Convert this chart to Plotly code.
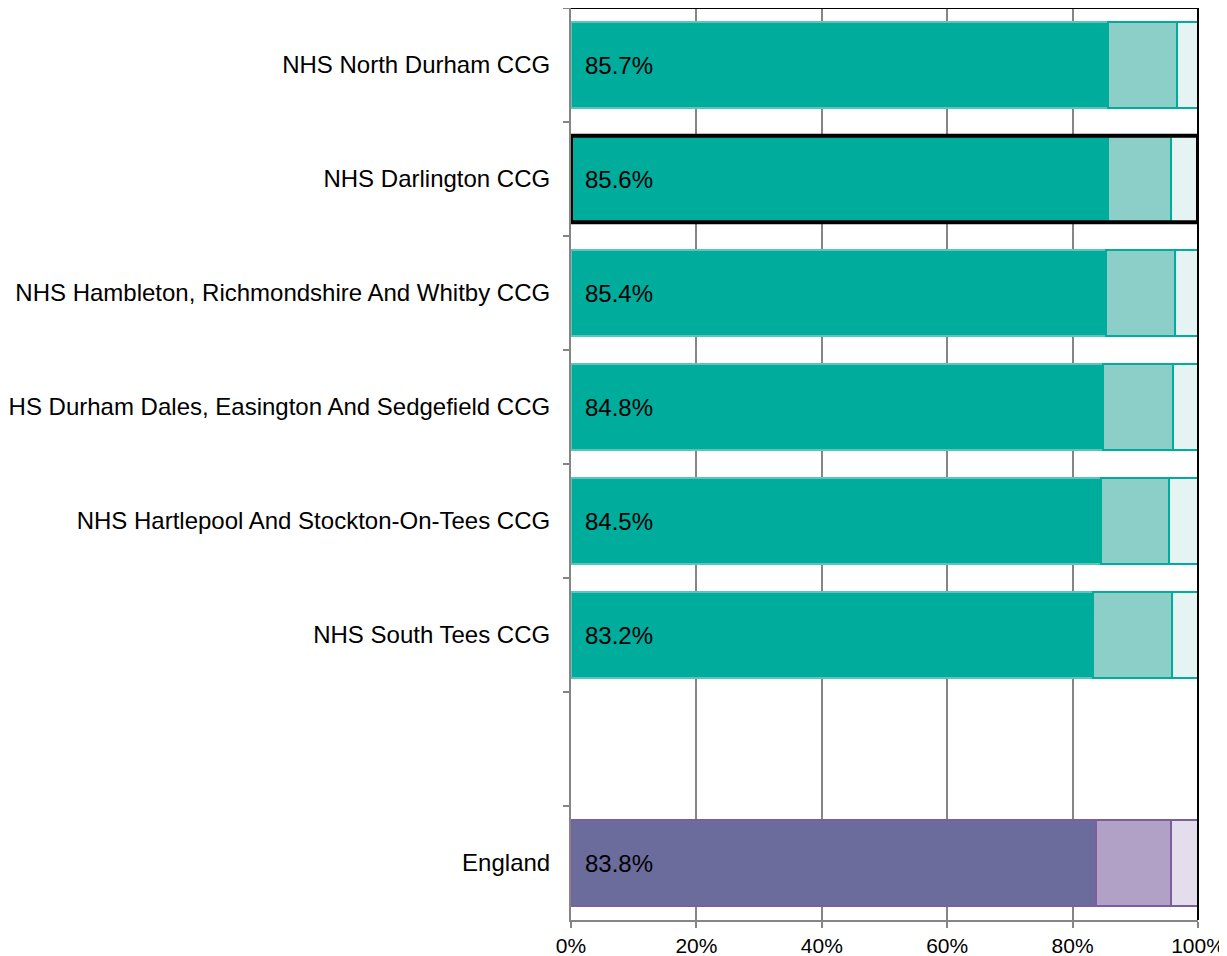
import plotly.graph_objects as go

categories = ["NHS North Durham CCG", "NHS Darlington CCG",
              "NHS Hambleton, Richmondshire And Whitby CCG",
              "NHS Durham Dales, Easington And Sedgefield CCG",
              "NHS Hartlepool And Stockton-On-Tees CCG",
              "NHS South Tees CCG", " ", "England"]
good = [85.7, 85.6, 85.4, 84.8, 84.5, 83.2, None, 83.8]
neither = [10.9, 10.1, 10.9, 11.2, 10.9, 12.6, None, 11.9]
poor = [3.4, 4.3, 3.7, 4.0, 4.6, 4.2, None, 4.3]
highlight = "NHS Darlington CCG"
x_ticks = [0, 20, 40, 60, 80, 100]
x_ticktext = ["0%", "20%", "40%", "60%", "80%", "100%"]

teal = ["#00AC9C", "#8BCFC8", "#E5F4F3"]
purple = ["#6C6C9C", "#B1A1C7", "#E4DEEC"]
teal_line = ["#5CC4B8", "#00AC9C", "#00AC9C"]
purple_line = ["#7A5E9E", "#7A5E9E", "#7A5E9E"]

fig = go.Figure()
for i, vals in enumerate([good, neither, poor]):
    fills = [purple[i] if c == "England" else teal[i] for c in categories]
    lines = [purple_line[i] if c == "England" else teal_line[i] for c in categories]
    fig.add_trace(go.Bar(
        y=categories, x=vals, orientation="h",
        marker=dict(color=fills, line=dict(color=lines, width=2)),
        width=0.76, showlegend=False, hoverinfo="skip"))

for c, v in zip(categories, good):
    if v is not None:
        fig.add_annotation(x=0, y=c, text=f"{v:.1f}%", showarrow=False,
                           xanchor="left", xshift=12,
                           font=dict(family="Liberation Sans, Arial", size=24, color="black"))

hi = categories.index(highlight)
fig.add_shape(type="rect", xref="x", yref="y", x0=0, x1=100,
              y0=hi - 0.38, y1=hi + 0.38, line=dict(color="black", width=4),
              fillcolor="rgba(0,0,0,0)", layer="above")
# top and right frame lines
fig.add_shape(type="line", xref="paper", yref="paper", x0=0, x1=1, y0=1, y1=1,
              line=dict(color="black", width=2))
fig.add_shape(type="line", xref="paper", yref="paper", x0=1, x1=1, y0=0, y1=1,
              line=dict(color="black", width=2))

fig.update_layout(
    barmode="stack", width=1219, height=948,
    margin=dict(l=563, r=29, t=0, b=36, autoexpand=False),
    plot_bgcolor="white", paper_bgcolor="white",
    font=dict(family="Liberation Sans, Arial", size=24, color="black"),
    xaxis=dict(range=[0, 100], tickvals=x_ticks, ticktext=x_ticktext,
               showgrid=True, gridcolor="#858585", gridwidth=2,
               showline=True, linecolor="#858585", linewidth=2,
               ticks="outside", ticklen=6, tickcolor="#858585", tickwidth=2,
               zeroline=False, automargin=False,
               tickfont=dict(size=21)),
    yaxis=dict(type="category", categoryorder="array", categoryarray=categories,
               autorange="reversed", tickson="boundaries",
               showline=True, linecolor="#858585", linewidth=2,
               ticks="outside", ticklen=6, tickcolor="#858585", tickwidth=2,
               showgrid=False, automargin=False, ticklabelstandoff=14,
               tickfont=dict(size=24)),
)
fig.write_html("out.html")
